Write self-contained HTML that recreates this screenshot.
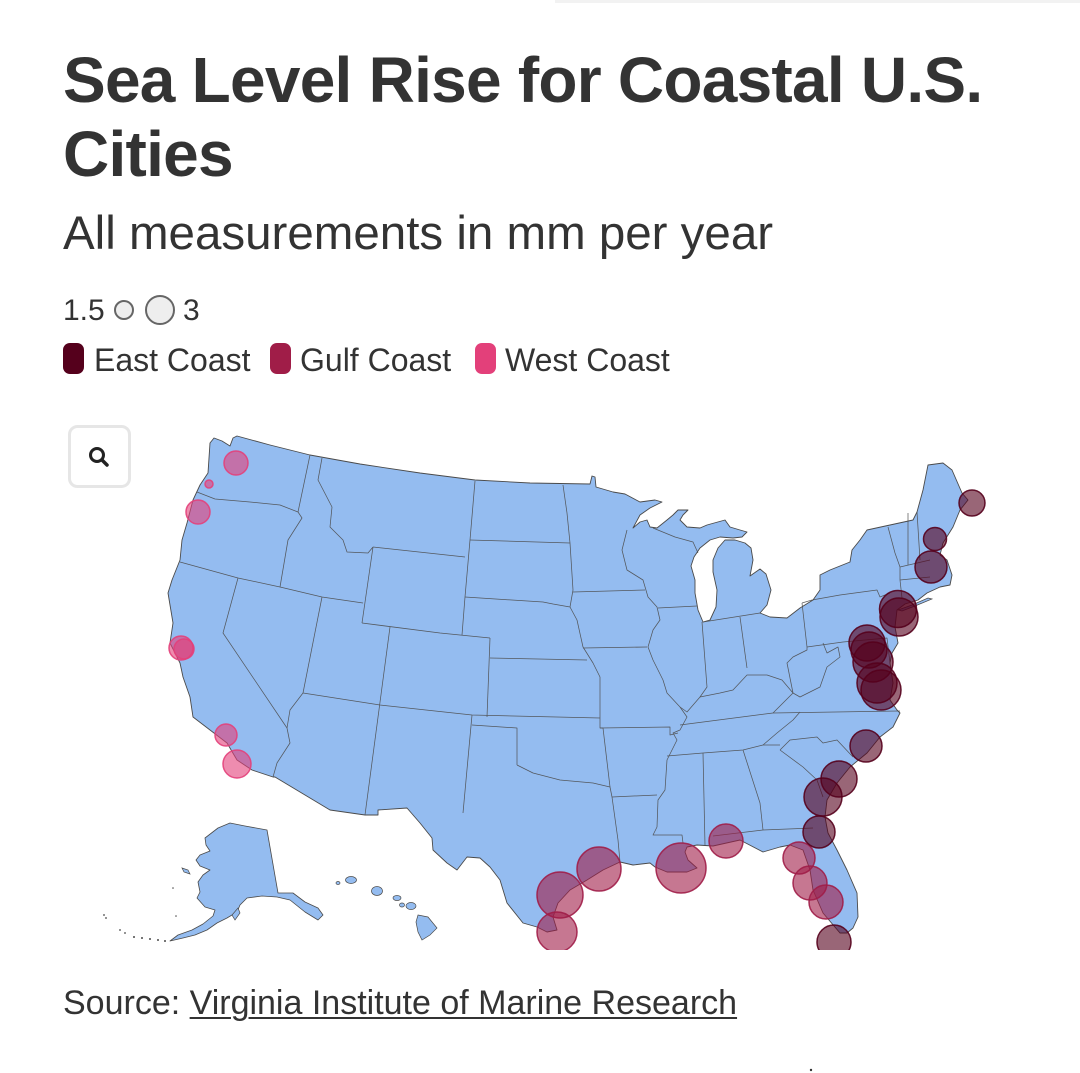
<!DOCTYPE html>
<html>
<head>
<meta charset="utf-8">
<style>
  html,body{margin:0;padding:0;background:#fff;}
  body{width:1080px;height:1073px;position:relative;overflow:hidden;font-family:"Liberation Sans",sans-serif;color:#333;}
  .t{position:absolute;white-space:nowrap;line-height:1;}
  #title1,#title2{font-weight:bold;font-size:64px;letter-spacing:-0.75px;left:63px;color:#333;}
  #title1{top:48px;}
  #title2{top:122px;}
  #sub{font-size:47.5px;left:63px;top:210px;color:#333;}
  .lg{font-size:30px;top:296px;color:#333;}
  .lg2{font-size:32px;top:344px;color:#333;}
  #src{font-size:34px;left:63px;top:986px;color:#333;}
  #src a{color:#333;text-decoration:underline;text-decoration-thickness:2px;text-underline-offset:3px;}
  svg{position:absolute;left:0;top:0;}
</style>
</head>
<body>
<svg width="1080" height="1073" viewBox="0 0 1080 1073" xmlns="http://www.w3.org/2000/svg">
  <rect x="555" y="0" width="525" height="3" fill="#f2f2f2"/>
  <!-- size legend -->
  <circle cx="124" cy="310" r="9" fill="#eeeeee" stroke="#666" stroke-width="2"/>
  <circle cx="160" cy="310" r="14" fill="#eeeeee" stroke="#666" stroke-width="2"/>
  <!-- color legend swatches -->
  <rect x="63" y="343" width="21" height="31" rx="7" fill="#55001c"/>
  <rect x="270" y="343" width="21" height="31" rx="7" fill="#a01d48"/>
  <rect x="475" y="343" width="21" height="31" rx="7" fill="#e3407a"/>

  <!-- search button -->
  <rect x="69.5" y="426.5" width="60" height="60" rx="8" fill="#fff" stroke="#e6e6e6" stroke-width="3"/>
  <circle cx="97" cy="455" r="6.5" fill="none" stroke="#222" stroke-width="3"/>
  <line x1="102" y1="460" x2="107" y2="465" stroke="#222" stroke-width="3.5" stroke-linecap="round"/>

  <defs>
    <clipPath id="mapclip"><rect x="0" y="400" width="1080" height="550"/></clipPath>
  </defs>

  <g clip-path="url(#mapclip)">
  <!-- contiguous US -->
  <path fill="#94bcf0" stroke="#4a4a4a" stroke-width="0.9" stroke-linejoin="round" d="M210,443 L214,438 L222,441 L230,446 L233,438 L237,436 L270,445 L310,455 L360,464 L420,473 L475,480 L530,483 L590,484 L592,476 L595,477 L596,487 L613,492 L625,494 L640,502 L655,500 L662,502 L650,508 L640,515 L633,528 L640,522 L647,520 L650,527 L657,528 L667,520 L673,515 L678,510 L688,510 L683,515 L680,520 L687,527 L700,528 L707,525 L725,520 L730,527 L740,530 L747,532 L742,537 L733,538 L720,537 L710,540 L700,548 L694,557 L691,566 L695,580 L695,593 L698,610 L703,622 L710,620 L716,607 L717,590 L713,572 L713,560 L718,548 L725,540 L735,540 L745,543 L751,548 L753,560 L750,576 L760,569 L766,574 L771,590 L767,605 L760,613 L770,617 L787,618 L800,608 L813,600 L820,590 L820,575 L830,570 L850,562 L852,550 L860,540 L867,530 L890,525 L913,520 L917,512 L923,490 L928,465 L943,463 L952,470 L962,493 L968,500 L960,510 L953,527 L943,543 L940,555 L947,560 L952,575 L950,585 L940,587 L927,593 L918,600 L905,604 L897,610 L895,627 L898,643 L892,653 L890,663 L893,683 L890,700 L897,710 L900,713 L893,727 L880,737 L867,753 L850,767 L837,783 L827,800 L825,817 L828,833 L837,850 L847,870 L857,893 L858,917 L853,928 L847,933 L840,933 L823,913 L813,890 L810,870 L803,850 L790,845 L780,847 L763,852 L740,840 L713,846 L697,845 L687,847 L685,852 L688,860 L697,868 L687,872 L667,872 L655,867 L650,863 L633,865 L620,862 L603,870 L587,880 L570,890 L558,903 L553,917 L557,930 L547,932 L537,927 L523,923 L507,903 L500,880 L490,867 L480,858 L467,857 L457,870 L447,863 L433,850 L432,838 L420,823 L407,808 L378,810 L378,815 L365,815 L330,810 L275,777 L273,777 L252,770 L237,760 L227,743 L210,730 L193,717 L190,697 L183,677 L180,663 L170,643 L173,623 L168,593 L172,580 L180,560 L182,540 L187,523 L193,500 L200,485 L208,473 Z"/>
  <!-- Long Island -->
  <path fill="#94bcf0" stroke="#4a4a4a" stroke-width="0.7" d="M898,610 L912,605 L928,598 L932,599 L915,606 L902,611 Z"/>

  <!-- state borders -->
  <g fill="none" stroke="#4d4d4d" stroke-width="0.75" stroke-linejoin="round" opacity="0.9">
    <polyline points="197,492 215,499 250,502 280,505 298,512"/>
    <polyline points="310,455 298,512"/>
    <polyline points="298,512 302,518 288,540 280,587"/>
    <polyline points="180,562 238,578 280,587 322,597 363,603"/>
    <polyline points="322,458 318,480 332,507 330,527 343,540 347,552 368,553 373,547"/>
    <polyline points="373,547 362,623"/>
    <polyline points="362,623 440,633 490,638"/>
    <polyline points="238,578 223,633 287,728 290,743 277,763 273,777"/>
    <polyline points="322,597 303,693"/>
    <polyline points="303,693 290,710 287,728"/>
    <polyline points="303,693 380,705 472,715 600,718"/>
    <polyline points="390,627 365,815"/>
    <polyline points="475,481 470,540 465,597 462,635"/>
    <polyline points="373,547 465,557"/>
    <polyline points="490,638 487,717"/>
    <polyline points="490,658 587,660"/>
    <polyline points="470,540 570,543"/>
    <polyline points="465,597 543,602 553,604 570,607"/>
    <polyline points="563,485 567,513 570,543 573,590 570,607"/>
    <polyline points="573,592 645,590"/>
    <polyline points="570,607 577,620 583,647 593,663 600,677 600,728 603,728 610,787"/>
    <polyline points="583,648 647,647"/>
    <polyline points="627,530 622,550 627,570 643,580 648,597 657,607 660,620 653,630 648,647 653,660 663,680 667,693 680,707 687,717 680,730 673,733 677,740 667,760 665,790 658,800 657,827 653,835 682,835 683,843"/>
    <polyline points="653,528 675,537 693,542 698,553"/>
    <polyline points="658,608 697,606"/>
    <polyline points="702,622 707,687 700,697"/>
    <polyline points="703,622 760,613"/>
    <polyline points="740,617 747,668"/>
    <polyline points="680,707 687,712 700,697 720,693 733,690 747,675 767,675 782,680 793,693 787,663 793,657 807,650 807,647 802,603"/>
    <polyline points="802,603 812,600 840,595 877,590 880,597 890,593"/>
    <polyline points="807,647 843,642 887,638 890,663"/>
    <polyline points="823,643 827,653 838,647 840,657 827,667 820,687 800,697 793,693 773,713"/>
    <polyline points="680,725 773,713 900,711"/>
    <polyline points="667,756 703,753 743,750 763,745 780,745"/>
    <polyline points="763,745 777,733 793,720 800,712"/>
    <polyline points="780,750 790,740 817,737 823,743 837,740 853,757"/>
    <polyline points="780,750 803,767 817,780 823,797"/>
    <polyline points="743,750 760,803 763,830"/>
    <polyline points="713,836 763,830 813,828"/>
    <polyline points="703,753 705,845"/>
    <polyline points="612,797 657,795"/>
    <polyline points="517,765 533,773 560,780 593,783 610,787 612,797 618,840 620,862"/>
    <polyline points="472,725 517,728 517,765"/>
    <polyline points="472,715 463,813"/>
    <polyline points="600,728 670,727 670,735 678,733"/>
    <polyline points="888,527 895,553 900,567 900,580 902,598"/>
    <polyline points="908,513 908,565"/>
    <polyline points="917,512 920,560"/>
    <polyline points="900,567 930,560"/>
    <polyline points="900,580 930,577"/>
  </g>

  <!-- Alaska -->
  <path fill="#94bcf0" stroke="#4a4a4a" stroke-width="0.8" stroke-linejoin="round" d="M205,838 L218,828 L230,823 L245,826 L267,830 L278,893 L293,893 L305,902 L318,908 L323,915 L318,920 L305,912 L290,900 L277,897 L262,896 L247,898 L240,905 L237,912 L227,918 L217,923 L207,930 L195,935 L183,938 L170,941 L178,935 L192,930 L203,924 L213,916 L215,910 L205,907 L197,898 L200,892 L198,882 L203,875 L210,870 L200,866 L196,860 L200,855 L210,851 L206,845 Z"/>
  <path fill="#94bcf0" stroke="#4a4a4a" stroke-width="0.7" d="M232,915 L238,908 L240,913 L235,920 Z"/>
  <path fill="#94bcf0" stroke="#4a4a4a" stroke-width="0.7" d="M182,868 L188,870 L190,874 L184,872 Z"/>
  <g fill="#4a4a4a">
    <circle cx="165" cy="941" r="1"/><circle cx="158" cy="940" r="1"/><circle cx="150" cy="939" r="1"/>
    <circle cx="142" cy="938" r="1"/><circle cx="134" cy="937" r="1"/><circle cx="125" cy="933" r="0.9"/>
    <circle cx="120" cy="930" r="0.9"/><circle cx="104" cy="915" r="0.9"/><circle cx="106" cy="918" r="0.9"/>
    <circle cx="173" cy="888" r="0.8"/><circle cx="176" cy="916" r="0.8"/>
  </g>
  <!-- Hawaii -->
  <g fill="#94bcf0" stroke="#4a4a4a" stroke-width="0.7">
    <ellipse cx="338" cy="883" rx="2" ry="1.5"/>
    <ellipse cx="351" cy="880" rx="5.5" ry="3.5"/>
    <ellipse cx="377" cy="891" rx="5.5" ry="4.5"/>
    <ellipse cx="397" cy="898" rx="4" ry="2.5"/>
    <ellipse cx="402" cy="905" rx="2.5" ry="2"/>
    <ellipse cx="411" cy="906" rx="5" ry="3.5"/>
    <path d="M418,915 L428,917 L437,928 L430,935 L422,940 L418,932 L416,922 Z"/>
  </g>

  <!-- West Coast circles -->
  <g fill="#e3407a" fill-opacity="0.6" stroke="#e3407a" stroke-opacity="0.9" stroke-width="1.5">
    <circle cx="236" cy="463" r="12"/>
    <circle cx="209" cy="484" r="4"/>
    <circle cx="198" cy="512" r="12"/>
    <circle cx="181" cy="648" r="12"/>
    <circle cx="184" cy="649" r="10"/>
    <circle cx="226" cy="735" r="11"/>
    <circle cx="237" cy="764" r="14"/>
  </g>
  <!-- Gulf Coast circles -->
  <g fill="#a01d48" fill-opacity="0.6" stroke="#a01d48" stroke-opacity="0.9" stroke-width="1.5">
    <circle cx="560" cy="895" r="23"/>
    <circle cx="599" cy="869" r="22"/>
    <circle cx="557" cy="932" r="20"/>
    <circle cx="681" cy="868" r="25"/>
    <circle cx="726" cy="841" r="17"/>
    <circle cx="799" cy="858" r="16"/>
    <circle cx="810" cy="883" r="17"/>
    <circle cx="826" cy="902" r="17"/>
  </g>
  <!-- East Coast circles -->
  <g fill="#55001c" fill-opacity="0.6" stroke="#55001c" stroke-opacity="0.9" stroke-width="1.5">
    <circle cx="972" cy="503" r="13"/>
    <circle cx="935" cy="539" r="11.5"/>
    <circle cx="931" cy="567" r="16"/>
    <circle cx="898" cy="609" r="18.5"/>
    <circle cx="899" cy="617" r="19"/>
    <circle cx="867" cy="643" r="18"/>
    <circle cx="869" cy="650" r="18"/>
    <circle cx="873" cy="662" r="20"/>
    <circle cx="877" cy="683" r="20"/>
    <circle cx="881" cy="690" r="20"/>
    <circle cx="866" cy="746" r="16"/>
    <circle cx="839" cy="779" r="18"/>
    <circle cx="823" cy="797" r="19"/>
    <circle cx="819" cy="832" r="16"/>
    <circle cx="834" cy="942" r="17"/>
  </g>
  </g>
  <circle cx="811" cy="1070" r="1.2" fill="#333"/>
</svg>

<div class="t" id="title1">Sea Level Rise for Coastal U.S.</div>
<div class="t" id="title2">Cities</div>
<div class="t" id="sub">All measurements in mm per year</div>

<div class="t lg" style="left:63px;">1.5</div>
<div class="t lg" style="left:183px;">3</div>

<div class="t lg2" style="left:94px;">East Coast</div>
<div class="t lg2" style="left:300px;">Gulf Coast</div>
<div class="t lg2" style="left:505px;">West Coast</div>

<div class="t" id="src">Source: <a>Virginia Institute of Marine Research</a></div>
</body>
</html>
